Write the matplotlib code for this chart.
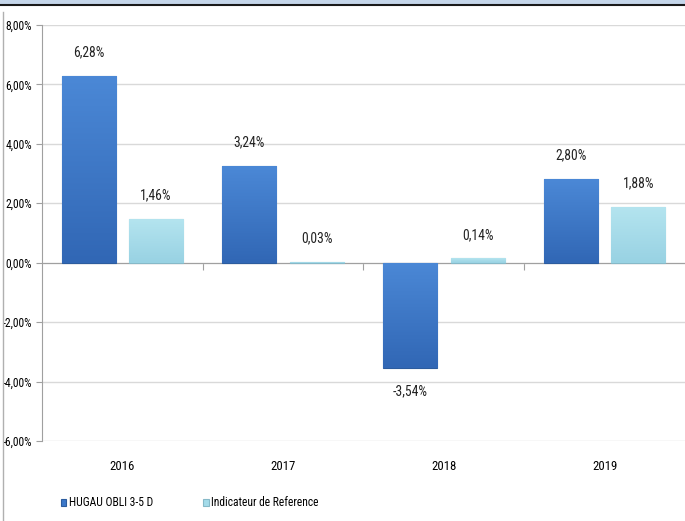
import numpy as np
import matplotlib.pyplot as plt
from matplotlib import font_manager
from matplotlib.patches import Rectangle
from matplotlib.colors import LinearSegmentedColormap
from matplotlib.transforms import blended_transform_factory

# Data
years = ["2016", "2017", "2018", "2019"]
fund = [6.28, 3.24, -3.54, 2.80]
bench = [1.46, 0.03, 0.14, 1.88]
series_names = ["HUGAU OBLI 3-5 D", "Indicateur de Reference"]

# pick a narrow font if one exists
fonts = [(f.name, f.stretch) for f in font_manager.fontManager.ttflist]
names = {n for n, _ in fonts}
family = "DejaVu Sans"
stretch = "normal"
for cand in ["Liberation Sans Narrow", "Roboto Condensed", "Open Sans Condensed"]:
    if cand in names:
        family = cand
        break
else:
    if any(n == "DejaVu Sans" and s in ("condensed", "semi-condensed") for n, s in fonts):
        stretch = "condensed"
plt.rcParams["font.family"] = [family, "DejaVu Sans"]
plt.rcParams["font.stretch"] = stretch
plt.rcParams["axes.unicode_minus"] = False
narrow = family != "DejaVu Sans" or stretch != "normal"
fs_lab = 9.8 if narrow else 8.5   # data labels
fs_tick = 8.4 if narrow else 7.5  # axis ticks / years
fs_leg = 8.4 if narrow else 7.4


def fr(v):
    return f"{v:.2f}%".replace(".", ",")


fig = plt.figure(figsize=(6.85, 5.21), dpi=100)
ax = fig.add_axes([0.0613, 0.1536, 0.9387, 0.7986])

x = np.arange(len(years))
w = 0.336
shift = 0.21

b1 = ax.bar(x - shift, fund, w, color="#3b78c9", edgecolor="#2c5c9e", linewidth=0.8, zorder=3)
b2 = ax.bar(x + shift, bench, w, color="#a4dbe9", edgecolor="#86b9c8", linewidth=0.8, zorder=3)

# soft vertical gradient on bars
grad = np.linspace(0, 1, 100).reshape(-1, 1)
for bars, c_top, c_bot in [(b1, "#4b88d6", "#3167b5"), (b2, "#b4e4ef", "#98d2e3")]:
    cmap = LinearSegmentedColormap.from_list("g", [c_bot, c_top])
    for r in bars:
        x0, y0 = r.get_x(), r.get_y()
        ww, hh = r.get_width(), r.get_height()
        lo, hi = min(y0, y0 + hh), max(y0, y0 + hh)
        im = ax.imshow(grad, extent=[x0, x0 + ww, lo, hi], origin="lower",
                       cmap=cmap, aspect="auto", zorder=3.5)
        im.set_clip_path(r)

for rect_list, vals in [(b1, fund), (b2, bench)]:
    for r, v in zip(rect_list, vals):
        xc = r.get_x() + r.get_width() / 2
        off = 12 if v >= 0 else -12
        ax.annotate(fr(v), (xc, v), xytext=(0, off), textcoords="offset points",
                    ha="center", va="bottom" if v >= 0 else "top", color="#222222",
                    fontsize=fs_lab)

ax.set_xlim(-0.5, 3.5)
ax.set_ylim(-6, 8)
yt = np.arange(-6, 9, 2)
ax.set_yticks(yt)
ax.set_yticklabels([fr(v) for v in yt])
ax.yaxis.grid(True, color="#d9d9d9", linewidth=1, zorder=0)
ax.set_axisbelow(True)

ax.spines["top"].set_visible(False)
ax.spines["right"].set_visible(False)
ax.spines["left"].set_color("#a0a0a0")
ax.spines["bottom"].set_position(("data", 0))
ax.spines["bottom"].set_color("#a0a0a0")
ax.set_xticks([0.5, 1.5, 2.5])
ax.set_xticklabels([])
ax.tick_params(axis="x", length=5, color="#a0a0a0")
ax.tick_params(axis="y", length=4, color="#a0a0a0", pad=3, labelsize=fs_tick)

trans = blended_transform_factory(ax.transData, fig.transFigure)
for xi, yr in zip(x, years):
    ax.text(xi, 1 - 467 / 521, yr, transform=trans, ha="center", va="center", fontsize=fs_tick + 0.8)

fig.legend([b1, b2], series_names, loc="center left", bbox_to_anchor=(0.073, 1 - 503 / 521),
           ncol=2, frameon=False, handlelength=0.5, handleheight=0.6, handletextpad=0.2,
           columnspacing=4.3, fontsize=fs_leg)

# frame decorations
fig.add_artist(Rectangle((0, 1 - 4 / 521), 1, 4 / 521, transform=fig.transFigure,
                         color="#c5d6ea", zorder=0))
fig.add_artist(plt.Line2D([0, 1], [1 - 4.5 / 521] * 2, transform=fig.transFigure, color="#1a1a1a", lw=1.5))
fig.add_artist(plt.Line2D([2.5 / 685] * 2, [0, 1 - 12 / 521], transform=fig.transFigure, color="#b0b0b0", lw=1))

fig.savefig("out.png", dpi=100)
